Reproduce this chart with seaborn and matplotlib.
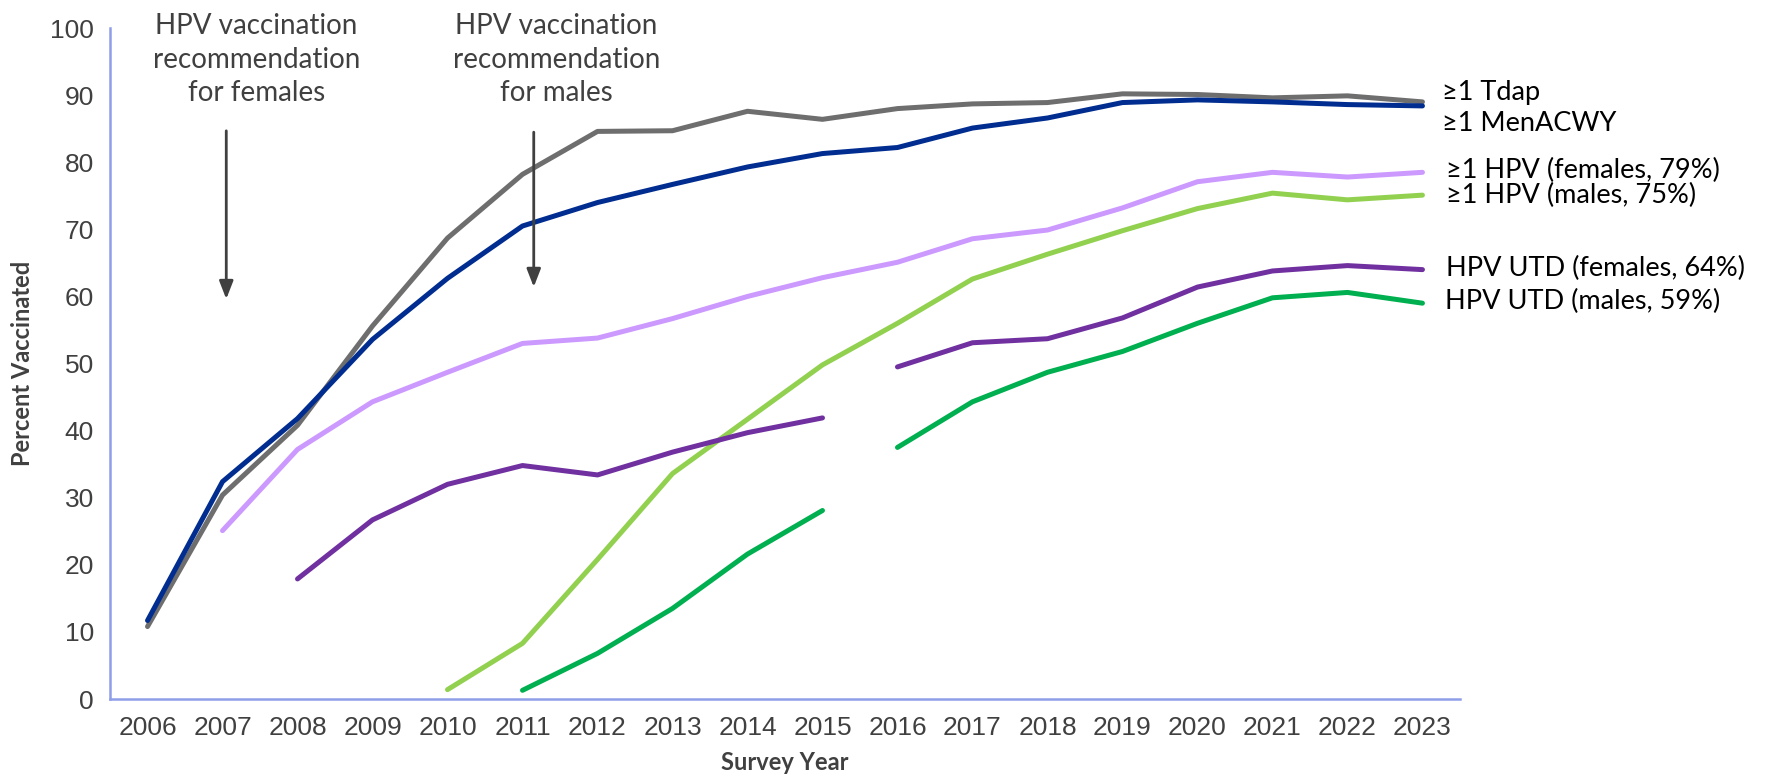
import numpy as np
import pandas as pd
import seaborn as sns
import matplotlib.pyplot as plt
from matplotlib.ticker import FixedLocator

sns.set_theme(style="white")
plt.rcParams['font.family'] = ['Liberation Sans', 'DejaVu Sans']

years = [str(y) for y in range(2006, 2024)]
nan = np.nan

tdap = [10.8, 30.4, 40.8, 55.6, 68.7, 78.2, 84.6, 84.7, 87.6, 86.4,
        88.0, 88.7, 88.9, 90.2, 90.1, 89.6, 89.9, 89.0]
menacwy = [11.7, 32.4, 41.8, 53.6, 62.7, 70.5, 74.0, 76.7, 79.3, 81.3,
           82.2, 85.1, 86.6, 88.9, 89.3, 89.0, 88.6, 88.4]
hpv1_f = [nan, 25.1, 37.2, 44.3, 48.7, 53.0, 53.8, 56.7, 60.0, 62.8,
          65.1, 68.6, 69.9, 73.2, 77.1, 78.5, 77.8, 78.5]
hpv1_m = [nan, nan, nan, nan, 1.4, 8.3, 20.8, 33.6, 41.7, 49.8,
          56.0, 62.6, 66.3, 69.8, 73.1, 75.4, 74.4, 75.1]
utd_f = [nan, nan, 17.9, 26.7, 32.0, 34.8, 33.4, 36.8, 39.7, 41.9,
         49.5, 53.1, 53.7, 56.8, 61.4, 63.8, 64.6, 64.0]
utd_m = [nan, nan, nan, nan, nan, 1.3, 6.8, 13.5, 21.6, 28.1,
         37.5, 44.3, 48.7, 51.8, 56.0, 59.8, 60.6, 59.0]

series_names = ['≥1 Tdap', '≥1 MenACWY', '≥1 HPV (females, 79%)',
                '≥1 HPV (males, 75%)', 'HPV UTD (females, 64%)', 'HPV UTD (males, 59%)']
series_vals = [tdap, menacwy, hpv1_f, hpv1_m, utd_f, utd_m]
colors = ['#6E6E6E', '#002D8F', '#CC99FF', '#92D050', '#7030A0', '#00B050']
# UTD definition changed in 2016 -> break the line there
broken = {'HPV UTD (females, 64%)', 'HPV UTD (males, 59%)'}

rows = []
for name, vals in zip(series_names, series_vals):
    for i, (yr, v) in enumerate(zip(years, vals)):
        if np.isnan(v):
            continue
        seg = 1 if (name in broken and int(yr) >= 2016) else 0
        rows.append({'year': yr, 'pct': v, 'series': name, 'seg': seg})
df = pd.DataFrame(rows)

fig = plt.figure(figsize=(17.66, 7.8), dpi=100)
ax = fig.add_axes([0.0623, 0.1038, 0.7644, 0.8602])

sns.lineplot(data=df, x='year', y='pct', hue='series', units='seg', estimator=None,
             hue_order=series_names, palette=colors, linewidth=3.6,
             solid_capstyle='round', legend=False, ax=ax, sort=False)

axis_col = '#8E9FE8'
txt_col = '#404040'
ax.set_xlim(-0.5, len(years) - 0.5)
ax.set_ylim(0, 100)
ax.set_yticks(range(0, 101, 10))
ax.set_xticks(range(len(years)))
ax.set_xticklabels(years)
ax.xaxis.set_minor_locator(FixedLocator(np.arange(-0.5, len(years), 1)))
ax.tick_params(axis='x', which='major', length=0, labelsize=19, labelcolor=txt_col, pad=12)
ax.tick_params(axis='x', which='minor', length=8, width=1.5, color=axis_col, direction='out')
ax.tick_params(axis='y', length=8, width=1.5, color=axis_col, direction='out',
               labelsize=19, labelcolor=txt_col)
for s in ['top', 'right']:
    ax.spines[s].set_visible(False)
for s in ['left', 'bottom']:
    ax.spines[s].set_color(axis_col)
    ax.spines[s].set_linewidth(1.8)
ax.grid(False)

lab_font = ['Lato', 'DejaVu Sans']
ax.set_xlabel('Survey Year', fontsize=17, fontweight='bold', color=txt_col,
              family=lab_font, labelpad=8)
ax.set_ylabel('Percent Vaccinated', fontsize=17, fontweight='bold', color=txt_col,
              family=lab_font, labelpad=12)

# recommendation arrows
arrow_kw = dict(arrowstyle='-|>,head_length=0.9,head_width=0.35', color='#404040', lw=2)
ax.annotate('', xy=(1.05, 59.2), xytext=(1.05, 85.1), arrowprops=arrow_kw)
ax.annotate('', xy=(5.15, 61.0), xytext=(5.15, 84.9), arrowprops=arrow_kw)
ax.text(1.45, 95.3, 'HPV vaccination\nrecommendation\nfor females', ha='center', va='center',
        fontsize=20, color=txt_col, family=lab_font, linespacing=1.35, clip_on=False)
ax.text(5.45, 95.3, 'HPV vaccination\nrecommendation\nfor males', ha='center', va='center',
        fontsize=20, color=txt_col, family=lab_font, linespacing=1.35, clip_on=False)

# right-hand labels
label_y = [90.4, 85.8, 78.8, 75.1, 64.2, 59.3]
label_dx = [0.26, 0.26, 0.32, 0.32, 0.32, 0.30]
for name, yv, dx in zip(series_names, label_y, label_dx):
    ax.text(len(years) - 1 + dx, yv, name, ha='left', va='center', fontsize=19.5,
            color='black', family=lab_font, clip_on=False)

fig.savefig('out.png', dpi=100)
